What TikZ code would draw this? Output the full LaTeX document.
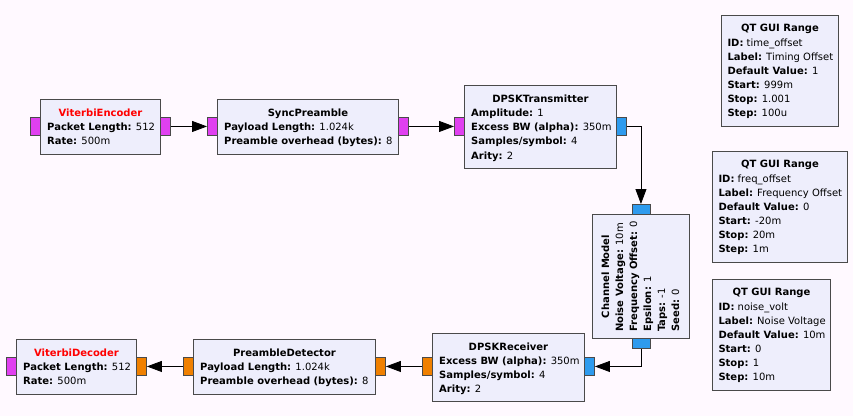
\documentclass[tikz,border=0pt]{standalone}
\usepackage{fontspec}
\setmainfont{DejaVu Sans}
\usetikzlibrary{arrows.meta}
\definecolor{bgc}{HTML}{FFF9FF}
\definecolor{blkc}{HTML}{EEEEFC}
\definecolor{bordc}{HTML}{4A4A4A}
\definecolor{magc}{HTML}{E040F0}
\definecolor{bluec}{HTML}{2E9BEE}
\definecolor{orgc}{HTML}{F08000}
\definecolor{titred}{HTML}{FF0000}
\newcommand{\fs}{\fontsize{10}{14}\selectfont}
\newcommand{\kv}[2]{\textbf{#1:} #2}
\tikzset{
  blockbox/.style={draw=bordc, fill=blkc, line width=0.9pt, inner sep=0pt, anchor=north west},
  hport/.style={draw=bordc, fill=#1, line width=0.9pt, inner sep=0pt, anchor=north west, minimum width=10pt, minimum height=18pt},
  vport/.style={draw=bordc, fill=#1, line width=0.9pt, inner sep=0pt, anchor=north west, minimum width=18pt, minimum height=10pt},
  ttl/.style={inner sep=0pt, anchor=base, font=\fs\bfseries},
  txt/.style={inner sep=0pt, anchor=base west, font=\fs},
  conn/.style={draw=black, line width=0.8pt, -{Triangle[length=15pt,width=11pt]}}
}
\newcommand{\gblock}[5]{\node[blockbox, minimum width=#4pt, minimum height=#5pt] (#1) at (#2,#3) {};}
\begin{document}
\begin{tikzpicture}[x=1pt,y=-1pt]
\fill[bgc] (0,0) rectangle (853,416);
\useasboundingbox (0,0) rectangle (853,416);

% ViterbiEncoder
\gblock{enc}{40}{99}{120}{55}
\node[hport=magc] (encin) at (30,117) {};
\node[hport=magc] (encout) at (160,117) {};
\node[ttl, text=titred] (enct) at ([yshift=-17pt]enc.north) {ViterbiEncoder};
\node[txt] (enc1) at ([xshift=7pt,yshift=-31.5pt]enc.north west) {\kv{Packet Length}{512}};
\node[txt] (enc2) at ([xshift=7pt,yshift=-45.8pt]enc.north west) {\kv{Rate}{500m}};

% SyncPreamble
\gblock{sync}{217}{99}{181}{55}
\node[hport=magc] (syncin) at (207,117) {};
\node[hport=magc] (syncout) at (398,117) {};
\node[ttl] (synct) at ([yshift=-17pt]sync.north) {SyncPreamble};
\node[txt] (sync1) at ([xshift=7pt,yshift=-31.5pt]sync.north west) {\kv{Payload Length}{1.024k}};
\node[txt] (sync2) at ([xshift=7pt,yshift=-45.8pt]sync.north west) {\kv{Preamble overhead (bytes)}{8}};

% DPSKTransmitter
\gblock{tx}{464}{85}{152}{83}
\node[hport=magc] (txin) at (454,117) {};
\node[hport=bluec] (txout) at (616,117) {};
\node[ttl] (txt0) at ([yshift=-17pt]tx.north) {DPSKTransmitter};
\node[txt] (tx1) at ([xshift=7pt,yshift=-31.5pt]tx.north west) {\kv{Amplitude}{1}};
\node[txt] (tx2) at ([xshift=7pt,yshift=-45.7pt]tx.north west) {\kv{Excess BW (alpha)}{350m}};
\node[txt] (tx3) at ([xshift=7pt,yshift=-59.9pt]tx.north west) {\kv{Samples/symbol}{4}};
\node[txt] (tx4) at ([xshift=7pt,yshift=-74.1pt]tx.north west) {\kv{Arity}{2}};

% Channel Model
\gblock{ch}{592}{214}{97}{124}
\node[vport=bluec] (chin) at (631.5,204) {};
\node[vport=bluec] (chout) at (631.5,338) {};
\node[ttl, rotate=90] (cht) at ([xshift=17pt]ch.west) {Channel Model};
\node[txt, rotate=90] (ch1) at ([xshift=31.2pt,yshift=7pt]ch.south west) {\kv{Noise Voltage}{10m}};
\node[txt, rotate=90] (ch2) at ([xshift=45.2pt,yshift=7pt]ch.south west) {\kv{Frequency Offset}{0}};
\node[txt, rotate=90] (ch3) at ([xshift=59.2pt,yshift=7pt]ch.south west) {\kv{Epsilon}{1}};
\node[txt, rotate=90] (ch4) at ([xshift=73.2pt,yshift=7pt]ch.south west) {\kv{Taps}{-1}};
\node[txt, rotate=90] (ch5) at ([xshift=87.2pt,yshift=7pt]ch.south west) {\kv{Seed}{0}};

% DPSKReceiver
\gblock{rx}{432}{333}{152}{68}
\node[hport=orgc] (rxout) at (422,357) {};
\node[hport=bluec] (rxin) at (584,357) {};
\node[ttl] (rxt) at ([yshift=-17pt]rx.north) {DPSKReceiver};
\node[txt] (rx1) at ([xshift=7pt,yshift=-31.5pt]rx.north west) {\kv{Excess BW (alpha)}{350m}};
\node[txt] (rx2) at ([xshift=7pt,yshift=-45.7pt]rx.north west) {\kv{Samples/symbol}{4}};
\node[txt] (rx3) at ([xshift=7pt,yshift=-59.9pt]rx.north west) {\kv{Arity}{2}};

% PreambleDetector
\gblock{pre}{193}{339}{182}{55}
\node[hport=orgc] (preout) at (183,357) {};
\node[hport=orgc] (prein) at (375,357) {};
\node[ttl] (pret) at ([yshift=-17pt]pre.north) {PreambleDetector};
\node[txt] (pre1) at ([xshift=7pt,yshift=-31.5pt]pre.north west) {\kv{Payload Length}{1.024k}};
\node[txt] (pre2) at ([xshift=7pt,yshift=-45.8pt]pre.north west) {\kv{Preamble overhead (bytes)}{8}};

% ViterbiDecoder
\gblock{dec}{16}{339}{120}{55}
\node[hport=magc] (decout) at (6,357) {};
\node[hport=orgc] (decin) at (136,357) {};
\node[ttl, text=titred] (dect) at ([yshift=-17pt]dec.north) {ViterbiDecoder};
\node[txt] (dec1) at ([xshift=7pt,yshift=-31.5pt]dec.north west) {\kv{Packet Length}{512}};
\node[txt] (dec2) at ([xshift=7pt,yshift=-45.8pt]dec.north west) {\kv{Rate}{500m}};

% QT GUI Range 1
\gblock{qa}{721}{15}{117}{111}
\node[ttl] (qat) at ([yshift=-16.5pt]qa.north) {QT GUI Range};
\node[txt] (qa1) at ([xshift=6.3pt,yshift=-31pt]qa.north west) {\kv{ID}{time\_offset}};
\node[txt] (qa2) at ([xshift=6.3pt,yshift=-45pt]qa.north west) {\kv{Label}{Timing Offset}};
\node[txt] (qa3) at ([xshift=6.3pt,yshift=-59pt]qa.north west) {\kv{Default Value}{1}};
\node[txt] (qa4) at ([xshift=6.3pt,yshift=-73pt]qa.north west) {\kv{Start}{999m}};
\node[txt] (qa5) at ([xshift=6.3pt,yshift=-87pt]qa.north west) {\kv{Stop}{1.001}};
\node[txt] (qa6) at ([xshift=6.3pt,yshift=-101pt]qa.north west) {\kv{Step}{100u}};

% QT GUI Range 2
\gblock{qb}{712}{151}{135}{111}
\node[ttl] (qbt) at ([yshift=-16.5pt]qb.north) {QT GUI Range};
\node[txt] (qb1) at ([xshift=6.3pt,yshift=-31pt]qb.north west) {\kv{ID}{freq\_offset}};
\node[txt] (qb2) at ([xshift=6.3pt,yshift=-45pt]qb.north west) {\kv{Label}{Frequency Offset}};
\node[txt] (qb3) at ([xshift=6.3pt,yshift=-59pt]qb.north west) {\kv{Default Value}{0}};
\node[txt] (qb4) at ([xshift=6.3pt,yshift=-73pt]qb.north west) {\kv{Start}{-20m}};
\node[txt] (qb5) at ([xshift=6.3pt,yshift=-87pt]qb.north west) {\kv{Stop}{20m}};
\node[txt] (qb6) at ([xshift=6.3pt,yshift=-101pt]qb.north west) {\kv{Step}{1m}};

% QT GUI Range 3
\gblock{qc}{712}{279}{118}{111}
\node[ttl] (qct) at ([yshift=-16.5pt]qc.north) {QT GUI Range};
\node[txt] (qc1) at ([xshift=6.3pt,yshift=-31pt]qc.north west) {\kv{ID}{noise\_volt}};
\node[txt] (qc2) at ([xshift=6.3pt,yshift=-45pt]qc.north west) {\kv{Label}{Noise Voltage}};
\node[txt] (qc3) at ([xshift=6.3pt,yshift=-59pt]qc.north west) {\kv{Default Value}{10m}};
\node[txt] (qc4) at ([xshift=6.3pt,yshift=-73pt]qc.north west) {\kv{Start}{0}};
\node[txt] (qc5) at ([xshift=6.3pt,yshift=-87pt]qc.north west) {\kv{Stop}{1}};
\node[txt] (qc6) at ([xshift=6.3pt,yshift=-101pt]qc.north west) {\kv{Step}{10m}};

% connectors
\draw[conn] (encout.east) -- (syncin.west);
\draw[conn] (syncout.east) -- (txin.west);
\draw[conn] (txout.east) -| (chin.north);
\draw[conn] (chout.south) |- (rxin.east);
\draw[conn] (rxout.west) -- (prein.east);
\draw[conn] (preout.west) -- (decin.east);
\end{tikzpicture}
\end{document}
